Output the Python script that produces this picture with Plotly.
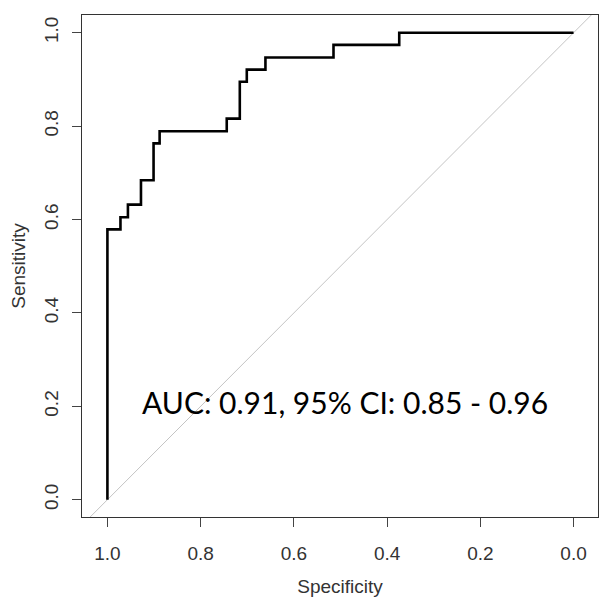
import plotly.graph_objects as go

# ROC coordinates (specificity, sensitivity)
specificity = [1.0, 1.0, 0.972, 0.956, 0.928, 0.901, 0.888, 0.744, 0.716, 0.701, 0.661, 0.515, 0.374, 0.0]
sensitivity = [0.0, 0.579, 0.605, 0.632, 0.684, 0.763, 0.789, 0.816, 0.895, 0.921, 0.947, 0.974, 1.0, 1.0]

# chance diagonal (sensitivity = 1 - specificity)
diag_spec = [1.2, -0.2]
diag_sens = [-0.2, 1.2]

tick_vals = [0.0, 0.2, 0.4, 0.6, 0.8, 1.0]
tick_text = ["0.0", "0.2", "0.4", "0.6", "0.8", "1.0"]

auc_label = "AUC: 0.91, 95% CI: 0.85 - 0.96"
auc_pos = (0.49, 0.21)

fig = go.Figure()
fig.add_trace(go.Scatter(x=diag_spec, y=diag_sens, mode="lines",
                         line=dict(color="#c4c4c4", width=1), hoverinfo="skip"))
fig.add_trace(go.Scatter(x=specificity, y=sensitivity, mode="lines",
                         line=dict(color="black", width=2.6, shape="hv")))

fig.add_annotation(x=auc_pos[0], y=auc_pos[1], text=auc_label, showarrow=False,
                   font=dict(family="Lato", size=30, color="black"),
                   xanchor="center", yanchor="middle")

axis_common = dict(showgrid=False, zeroline=False, showline=True, mirror=True,
                   linecolor="#333333", linewidth=1, ticks="outside", ticklen=9,
                   tickcolor="#444444", tickvals=tick_vals, ticktext=tick_text,
                   automargin=False,
                   tickfont=dict(family="Liberation Sans", size=19, color="#333333"),
                   title_font=dict(family="Liberation Sans", size=19, color="#333333"))

fig.update_xaxes(range=[1.0545, -0.0524], title_text="Specificity",
                 ticklabelstandoff=10, title_standoff=16, **axis_common)
fig.update_yaxes(range=[-0.037, 1.038], title_text="Sensitivity", tickangle=-90,
                 ticklabelstandoff=6, title_standoff=16, **axis_common)

fig.update_layout(width=605, height=604, showlegend=False,
                  plot_bgcolor="white", paper_bgcolor="white",
                  margin=dict(l=74, r=15, t=7, b=95))

fig.write_html("out.html")
